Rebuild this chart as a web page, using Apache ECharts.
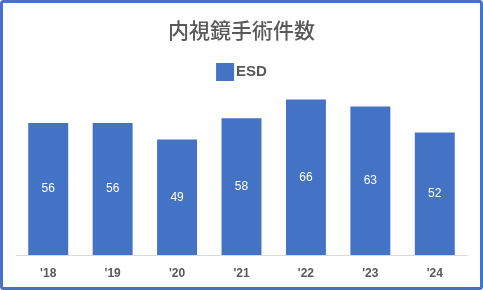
<!DOCTYPE html>
<html><head><meta charset="utf-8">
<script src="https://cdn.jsdelivr.net/npm/echarts@6/dist/echarts.min.js"></script>
<style>html,body{margin:0;padding:0;background:#fff}#c{width:483px;height:290px}</style>
</head><body><div id="c"></div>
<script>
const title = '内視鏡手術件数';
const seriesName = 'ESD';
const categories = ["'18","'19","'20","'21","'22","'23","'24"];
const values = [56, 56, 49, 58, 66, 63, 52];

const chart = echarts.init(document.getElementById('c'), null, {renderer:'canvas'});
chart.setOption({
  animation: false,
  backgroundColor: '#fff',
  title: {
    text: title, left: 'center', top: 15,
    textStyle: {fontFamily: 'Noto Sans CJK JP', fontSize: 21, fontWeight: 500, color: '#595959'}
  },
  legend: {
    data: [seriesName], top: 58, left: 'center',
    itemWidth: 18, itemHeight: 18, itemGap: 4,
    icon: 'rect',
    textStyle: {fontFamily: 'Liberation Sans', fontSize: 15, fontWeight: 'bold', color: '#595959', padding: [0,0,0,-3]}
  },
  grid: {left: 16, right: 16, top: 90, bottom: 35, containLabel: false},
  xAxis: {
    type: 'category', data: categories,
    axisLine: {lineStyle: {color: '#D9D9D9', width: 1}},
    axisTick: {show: false},
    axisLabel: {fontFamily: 'Liberation Sans', fontSize: 12, fontWeight: 'bold', color: '#595959', margin: 13}
  },
  yAxis: {type: 'value', min: 0, max: 70, show: false, splitLine: {show: false}},
  series: [{
    name: seriesName, type: 'bar', data: values, barCategoryGap: '38%',
    itemStyle: {color: '#4472C4'},
    label: {show: true, position: 'inside', color: '#fff', fontFamily: 'Liberation Sans', fontSize: 12}
  }],
  graphic: [{
    type: 'rect', shape: {x: 1.5, y: 1.5, width: 480, height: 287, r: 2},
    style: {fill: 'none', stroke: '#4472C4', lineWidth: 3}, z: 100
  }]
});
</script></body></html>
